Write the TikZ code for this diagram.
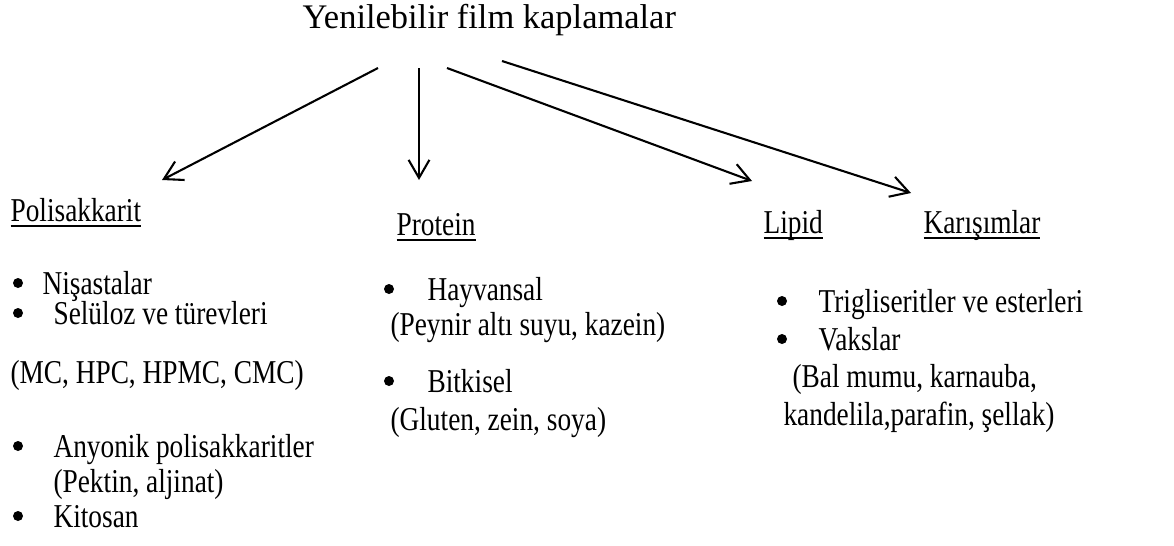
\documentclass[tikz,border=0pt,12pt]{standalone}
\usepackage{fontspec}
\setmainfont{Liberation Serif}
\newfontfamily\condfont[FakeStretch=0.82]{Liberation Serif}
\usetikzlibrary{arrows.meta}
\tikzstyle{arrow} = [line width=0.75pt,-{Straight Barb[length=6.5pt,width=7.5pt]}]
\newcommand{\hd}[1]{\setbox0\hbox{#1}\rlap{\rule[-2.2pt]{\wd0}{0.7pt}}\box0}

\begin{document}
\begin{tikzpicture}[x=0.36pt,y=-0.36pt]
    \tikzstyle{txt}=[inner sep=0pt, anchor=base west, font=\condfont\fontsize{12}{14}\selectfont]
    \tikzstyle{head}=[txt]
    \tikzstyle{title}=[inner sep=0pt, anchor=base west, font=\fontsize{12.4}{15}\selectfont]
    \useasboundingbox (0,0) rectangle (1174,545);

    % Draw the title
    \node[title] (T) at (302,28) {Yenilebilir film kaplamalar};

    % Draw the group headers
    \node[head] (H-1) at (10,221) {\hd{Polisakkarit}};
    \node[head] (H-2) at (396,235) {\hd{Protein}};
    \node[head] (H-3) at (763,233) {\hd{Lipid}};
    \node[head] (H-4) at (923,233) {\hd{Karışımlar}};

    % Draw the polisakkarit items
    \node[txt] (P-1) at (42,294) {Nişastalar};
    \node[txt] (P-2) at (53,324) {Selüloz ve türevleri};
    \node[txt] (P-3) at (10,383) {(MC, HPC, HPMC, CMC)};
    \node[txt] (P-4) at (53,457) {Anyonik polisakkaritler};
    \node[txt] (P-5) at (53,492) {(Pektin, aljinat)};
    \node[txt] (P-6) at (53,527) {Kitosan};

    % Draw the protein items
    \node[txt] (R-1) at (427,300) {Hayvansal};
    \node[txt] (R-2) at (390,335) {(Peynir altı suyu, kazein)};
    \node[txt] (R-3) at (427,392) {Bitkisel};
    \node[txt] (R-4) at (390,430) {(Gluten, zein, soya)};

    % Draw the lipid items
    \node[txt] (L-1) at (818,312) {Trigliseritler ve esterleri};
    \node[txt] (L-2) at (818,350) {Vakslar};
    \node[txt] (L-3) at (792,387) {(Bal mumu, karnauba,};
    \node[txt] (L-4) at (783,425) {kandelila,parafin, şellak)};

    % Bullets
    \foreach \x/\y in {18/283, 18/313, 18/446, 18/516, 389/289, 389/381, 782/301, 782/339}
        \fill (\x,\y) circle (5);

    % Arrow ends
    \coordinate (s1) at (378,68);  \coordinate (e1) at (162,180);
    \coordinate (s2) at (419,68);  \coordinate (e2) at (419,180);
    \coordinate (s3) at (447,68);  \coordinate (e3) at (752,181);
    \coordinate (s4) at (502,61);  \coordinate (e4) at (911,193);

    \foreach \i in {1,2,3,4}
        \draw[arrow] (s\i) -- (e\i);
\end{tikzpicture}
\end{document}
